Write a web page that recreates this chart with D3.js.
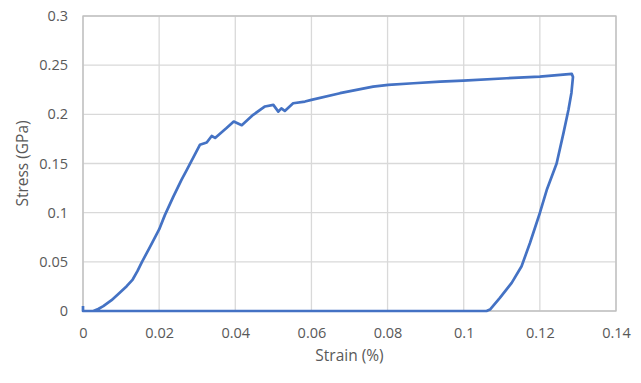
<!DOCTYPE html>
<html>
<head>
<meta charset="utf-8">
<script src="https://cdn.jsdelivr.net/npm/d3@7"></script>
<style>
  body { margin: 0; background: #fff; }
  svg text { font-family: "Open Sans", "Noto Sans", sans-serif; fill: #595959; }
</style>
</head>
<body>
<svg id="vis-svg" width="641" height="383"></svg>
<script>
var width = 641;
var height = 383;

var margin = { top: 16, right: 25, bottom: 72, left: 83 };

// values
var strain = [0, 0, 0.001, 0.0027, 0.004, 0.00534, 0.0075, 0.0095, 0.01148, 0.01305,
  0.0143, 0.0155, 0.0175, 0.02, 0.0215, 0.0237, 0.0259, 0.0272, 0.0295, 0.0307, 0.0325, 0.0338,
  0.0347, 0.0377, 0.0396, 0.0417, 0.0447, 0.0478, 0.05, 0.0513, 0.0521, 0.053,
  0.0552, 0.0583, 0.06, 0.0675, 0.0762, 0.0802, 0.0868, 0.0938, 0.0999, 0.1113,
  0.12, 0.1284,
  0.1287, 0.1283, 0.1275, 0.1262, 0.1244, 0.1218, 0.12, 0.1174, 0.1152, 0.1126, 0.1095,
  0.1069, 0.106, 0.05, 0];
var stress = [0.005, 0, 0, 0, 0.002, 0.0049, 0.011, 0.018, 0.0252, 0.032,
  0.0405, 0.05, 0.0645, 0.083, 0.0975, 0.116, 0.1336, 0.143, 0.16, 0.169, 0.1713, 0.178,
  0.176, 0.186, 0.1927, 0.189, 0.1995, 0.208, 0.2096, 0.2028, 0.206, 0.2035,
  0.2113, 0.213, 0.2147, 0.2215, 0.2282, 0.23, 0.2316, 0.2333, 0.2343, 0.2367,
  0.2383, 0.2411,
  0.238, 0.222, 0.2045, 0.1809, 0.15, 0.123, 0.0997, 0.0692, 0.0455, 0.0286, 0.0134,
  0.0015, 0, 0, 0];

var xTicks = [0, 0.02, 0.04, 0.06, 0.08, 0.1, 0.12, 0.14];
var yTicks = [0, 0.05, 0.1, 0.15, 0.2, 0.25, 0.3];

var plotW = width - margin.left - margin.right;
var plotH = height - margin.top - margin.bottom;

var svg = d3.select("#vis-svg");
var space = svg.append("g")
  .attr("transform", "translate(" + margin.left + "," + margin.top + ")");

var x = d3.scaleLinear().domain([0, 0.14]).range([0, plotW]);
var y = d3.scaleLinear().domain([0, 0.3]).range([plotH, 0]);

// gridlines
space.append("g")
  .selectAll("line.h")
  .data(yTicks)
  .enter()
  .append("line")
  .attr("x1", 0).attr("x2", plotW)
  .attr("y1", d => y(d)).attr("y2", d => y(d))
  .attr("stroke", "#d9d9d9").attr("stroke-width", 1.3);

space.append("g")
  .selectAll("line.v")
  .data(xTicks)
  .enter()
  .append("line")
  .attr("y1", 0).attr("y2", plotH)
  .attr("x1", d => x(d)).attr("x2", d => x(d))
  .attr("stroke", "#d9d9d9").attr("stroke-width", 1.3);

// plot border
space.append("rect")
  .attr("x", 0).attr("y", 0)
  .attr("width", plotW).attr("height", plotH)
  .attr("fill", "none")
  .attr("stroke", "#bfbfbf").attr("stroke-width", 1.3);

// axes
var xAxis = space.append("g")
  .attr("transform", "translate(0," + plotH + ")")
  .call(d3.axisBottom(x).tickValues(xTicks).tickSize(0).tickPadding(17).tickFormat(d3.format("~g")));
xAxis.select(".domain").remove();
xAxis.selectAll("text").style("font-size", "14.5px");

var yAxis = space.append("g")
  .call(d3.axisLeft(y).tickValues(yTicks).tickSize(0).tickPadding(15).tickFormat(d3.format("~g")));
yAxis.select(".domain").remove();
yAxis.selectAll("text").style("font-size", "14.5px");

// the loop
var line = d3.line()
  .x(function(d, i) { return x(strain[i]); })
  .y(function(d, i) { return y(stress[i]); });

space.append("path")
  .datum(stress)
  .attr("fill", "none")
  .attr("stroke", "#4472c4")
  .attr("stroke-width", 2.7)
  .attr("stroke-linejoin", "round")
  .attr("d", line);

// axis titles
svg.append("text")
  .attr("x", margin.left + plotW / 2)
  .attr("y", 361)
  .attr("text-anchor", "middle")
  .style("font-size", "15.5px")
  .text("Strain (%)");

svg.append("text")
  .attr("transform", "translate(28," + (margin.top + plotH / 2) + ") rotate(-90)")
  .attr("text-anchor", "middle")
  .style("font-size", "15.5px")
  .text("Stress (GPa)");
</script>
</body>
</html>
